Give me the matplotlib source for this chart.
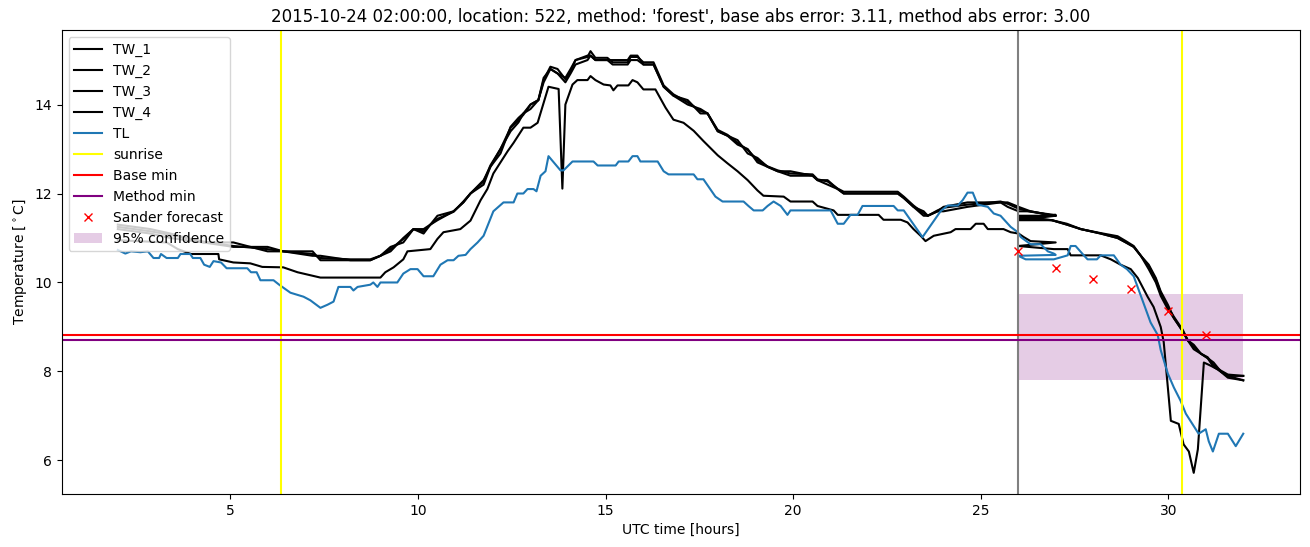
import matplotlib
matplotlib.use("Agg")
import matplotlib.pyplot as plt

# upper three water temperature sensors (two chunks: history + forecast window)
tw_hours = [2.0, 2.87, 3.4, 4.28, 5.08, 5.99, 6.41, 7.19, 7.4, 8.2, 8.73, 9.0, 9.27, 9.61, 9.88,
            10.15, 10.33, 10.52, 10.95, 11.21, 11.4, 11.75, 11.93, 12.2, 12.47, 12.68, 12.81, 13.0,
            13.21, 13.35, 13.53, 13.72, 13.93, 14.07, 14.2, 14.52, 14.6, 14.73, 15.05, 15.19, 15.59,
            15.67, 15.85, 16.01, 16.28, 16.55, 16.81, 17.19, 17.53, 17.72, 17.99, 18.25, 18.52, 18.79,
            19.05, 19.32, 19.59, 19.93, 20.52, 20.65, 20.92, 21.19, 21.35, 22.79, 22.95, 23.21, 23.48,
            23.59, 23.85, 24.01, 24.65, 25.53, 25.72, 26.01, 26.33, 26.95, 27.0,
            26.0, 26.9, 27.3, 27.67, 28.2, 28.65, 28.87, 29.08, 29.27, 29.48, 29.67, 29.8, 29.99, 30.15,
            30.39, 30.52, 30.68, 30.87, 31.05, 31.21, 31.4, 31.59, 32.0]

tw_1 = [11.25, 11.15, 11.07, 10.92, 10.82, 10.75, 10.7, 10.64, 10.55, 10.52, 10.52, 10.6, 10.75, 10.98,
        11.2, 11.15, 11.3, 11.43, 11.59, 11.82, 12.0, 12.27, 12.63, 13.0, 13.48, 13.65, 13.77, 14.0,
        14.1, 14.55, 14.85, 14.8, 14.57, 14.75, 15.0, 15.07, 15.2, 15.05, 15.05, 14.95, 14.95, 15.07,
        15.07, 14.95, 14.95, 14.43, 14.23, 14.05, 13.86, 13.8, 13.43, 13.32, 13.14, 12.98, 12.75, 12.61,
        12.52, 12.45, 12.43, 12.32, 12.27, 12.11, 12.04, 12.04, 11.93, 11.73, 11.55, 11.5, 11.62, 11.68,
        11.75, 11.82, 11.77, 11.66, 11.59, 11.52, 11.52,
        11.45, 11.4, 11.32, 11.2, 11.11, 11.04, 10.93, 10.82, 10.6, 10.37, 10.07, 9.77, 9.45, 9.23,
        8.93, 8.7, 8.55, 8.4, 8.32, 8.14, 8.02, 7.93, 7.9]

tw_2 = [11.2, 11.1, 11.0, 10.9, 10.8, 10.8, 10.7, 10.6, 10.6, 10.5, 10.5, 10.6, 10.7, 11.0, 11.2,
        11.1, 11.3, 11.4, 11.6, 11.8, 12.0, 12.3, 12.6, 13.0, 13.4, 13.6, 13.8, 14.0, 14.1, 14.5,
        14.8, 14.7, 14.5, 14.7, 14.9, 15.0, 15.1, 15.0, 15.0, 14.9, 14.9, 15.0, 15.0, 14.9, 14.9,
        14.4, 14.2, 14.0, 13.9, 13.8, 13.4, 13.3, 13.1, 13.0, 12.7, 12.6, 12.5, 12.4, 12.4, 12.3,
        12.2, 12.1, 12.0, 12.0, 11.9, 11.7, 11.5, 11.5, 11.6, 11.6, 11.7, 11.8, 11.8, 11.7, 11.6,
        11.5, 11.5,
        11.4, 11.4, 11.3, 11.2, 11.1, 11.0, 10.9, 10.8, 10.6, 10.4, 10.1, 9.8, 9.5, 9.2, 8.9, 8.7,
        8.5, 8.4, 8.3, 8.1, 8.0, 7.9, 7.9]

tw_4 = [11.3, 11.2, 11.1, 10.9, 10.9, 10.7, 10.7, 10.7, 10.5, 10.5, 10.5, 10.6, 10.8, 10.9, 11.2,
        11.2, 11.3, 11.5, 11.6, 11.8, 12.0, 12.2, 12.6, 12.9, 13.5, 13.7, 13.8, 13.9, 14.1, 14.6,
        14.8, 14.7, 14.6, 14.8, 15.0, 15.1, 15.1, 15.0, 15.0, 15.0, 15.0, 15.1, 15.1, 14.9, 14.9,
        14.4, 14.2, 14.1, 13.8, 13.8, 13.4, 13.3, 13.2, 12.9, 12.8, 12.6, 12.5, 12.5, 12.4, 12.3,
        12.3, 12.1, 12.0, 12.0, 11.9, 11.7, 11.6, 11.5, 11.6, 11.7, 11.8, 11.8, 11.7, 11.6, 11.6,
        11.5, 11.5,
        11.5, 11.4, 11.3, 11.2, 11.1, 11.0, 10.9, 10.8, 10.6, 10.3, 10.0, 9.7, 9.4, 9.2, 8.9, 8.7,
        8.6, 8.4, 8.3, 8.2, 8.0, 7.9, 7.8]

# lower sensor, with the spike at ~13.8 h and the drop before sunrise
tw3_hours = [2.0, 3.3, 3.6, 3.95, 4.68, 4.7, 5.08, 5.53, 5.85, 6.41, 6.79, 7.4, 9.0, 9.13, 9.35,
             9.61, 9.72, 10.33, 10.52, 10.68, 11.13, 11.4, 11.67, 11.85, 12.01, 12.39, 12.55, 12.81,
             13.0, 13.19, 13.48, 13.75, 13.85, 13.93, 14.12, 14.25, 14.52, 14.6, 14.73, 14.95, 15.13,
             15.21, 15.32, 15.61, 15.72, 15.85, 16.01, 16.33, 16.6, 16.81, 17.08, 17.35, 17.61, 17.99,
             18.25, 18.52, 18.79, 19.05, 19.21, 19.75, 19.93, 20.52, 20.65, 21.08, 21.19, 22.28, 22.41,
             22.87, 23.05, 23.21, 23.4, 23.53, 23.75, 24.2, 24.33, 24.73, 24.87, 25.08, 25.19, 25.61,
             25.8, 26.01, 26.15, 26.33, 27.0,
             26.0, 26.95, 27.32, 27.4, 28.2, 28.47, 28.73, 29.0, 29.19, 29.45, 29.61, 29.8, 29.88,
             29.99, 30.07, 30.28, 30.41, 30.55, 30.68, 30.79, 30.95, 31.08, 31.32, 31.59, 32.0]
tw_3 = [10.95, 10.9, 10.75, 10.64, 10.64, 10.52, 10.45, 10.43, 10.35, 10.34, 10.23, 10.11, 10.11,
        10.23, 10.34, 10.52, 10.7, 10.75, 10.98, 11.13, 11.2, 11.39, 11.85, 12.1, 12.45, 12.95, 13.14,
        13.48, 13.48, 13.59, 14.4, 14.35, 12.11, 14.0, 14.45, 14.55, 14.55, 14.64, 14.55, 14.45, 14.43,
        14.32, 14.43, 14.43, 14.55, 14.5, 14.34, 14.34, 13.93, 13.66, 13.59, 13.41, 13.18, 12.86, 12.68,
        12.5, 12.3, 12.07, 11.95, 11.93, 11.82, 11.82, 11.72, 11.62, 11.52, 11.52, 11.41, 11.41, 11.35,
        11.2, 11.05, 10.93, 11.05, 11.13, 11.2, 11.2, 11.32, 11.32, 11.2, 11.2, 11.13, 11.1, 11.02,
        10.93, 10.9,
        10.82, 10.75, 10.75, 10.61, 10.61, 10.52, 10.4, 10.3, 10.1, 9.68, 9.45, 9.0, 8.66, 7.64, 6.89,
        6.82, 6.36, 6.2, 5.72, 6.25, 8.2, 8.15, 8.05, 7.86, 7.8]

# air temperature
tl_hours = [2.0, 2.2, 2.35, 2.6, 2.8, 2.95, 3.1, 3.15, 3.3, 3.6, 3.67, 3.93, 4.0, 4.2, 4.3, 4.45,
            4.55, 4.75, 4.9, 5.45, 5.55, 5.7, 5.8, 6.15, 6.3, 6.6, 6.95, 7.13, 7.4, 7.59, 7.75, 7.88,
            8.2, 8.28, 8.39, 8.73, 8.81, 8.92, 9.0, 9.45, 9.61, 9.8, 9.99, 10.15, 10.41, 10.6, 10.79,
            10.95, 11.08, 11.27, 11.4, 11.59, 11.75, 11.93, 12.01, 12.28, 12.55, 12.65, 12.81, 12.92,
            13.08, 13.16, 13.27, 13.4, 13.48, 13.8, 13.88, 14.12, 14.68, 14.79, 15.27, 15.35, 15.61,
            15.72, 15.85, 15.93, 16.39, 16.55, 16.68, 17.35, 17.45, 17.61, 17.93, 18.12, 18.68, 18.81,
            18.95, 19.19, 19.32, 19.48, 19.67, 19.85, 19.93, 21.0, 21.19, 21.35, 21.53, 21.72, 21.85,
            22.68, 22.79, 22.95, 23.45, 23.93, 24.12, 24.39, 24.52, 24.65, 24.79, 24.92, 25.19, 25.35,
            25.53, 25.8, 25.99, 26.07, 26.33, 26.6, 26.79, 26.95, 27.0,
            26.0, 26.2, 26.95, 27.32, 27.4, 27.53, 27.75, 27.85, 28.1, 28.2, 28.55, 28.73, 28.9, 29.08,
            29.27, 29.53, 29.72, 29.8, 29.99, 30.15, 30.33, 30.47, 30.68, 30.81, 31.0, 31.08, 31.19,
            31.35, 31.59, 31.8, 32.0]
tl = [10.73, 10.65, 10.7, 10.68, 10.7, 10.55, 10.55, 10.64, 10.55, 10.55, 10.64, 10.64, 10.55, 10.55,
      10.4, 10.35, 10.48, 10.45, 10.32, 10.32, 10.23, 10.23, 10.05, 10.05, 9.95, 9.77, 9.68, 9.6, 9.43,
      9.5, 9.57, 9.9, 9.9, 9.82, 9.9, 9.95, 10.0, 9.9, 10.0, 10.0, 10.2, 10.3, 10.3, 10.14, 10.14, 10.4,
      10.5, 10.5, 10.6, 10.62, 10.75, 10.9, 11.05, 11.43, 11.6, 11.8, 11.8, 12.0, 12.0, 12.1, 12.1,
      12.05, 12.4, 12.5, 12.84, 12.52, 12.52, 12.72, 12.72, 12.63, 12.63, 12.72, 12.72, 12.84, 12.84,
      12.72, 12.72, 12.5, 12.43, 12.43, 12.32, 12.32, 11.93, 11.82, 11.82, 11.72, 11.62, 11.62, 11.72,
      11.82, 11.72, 11.52, 11.62, 11.62, 11.32, 11.32, 11.52, 11.52, 11.72, 11.72, 11.62, 11.62, 11.02,
      11.6, 11.73, 11.73, 11.85, 12.02, 12.02, 11.75, 11.7, 11.55, 11.5, 11.25, 11.13, 11.02, 10.86,
      10.86, 10.7, 10.65, 10.62,
      10.6, 10.52, 10.52, 10.61, 10.82, 10.82, 10.61, 10.52, 10.52, 10.61, 10.61, 10.4, 10.3, 10.14,
      9.7, 9.1, 8.82, 8.48, 7.95, 7.64, 7.34, 7.05, 6.77, 6.6, 6.7, 6.43, 6.2, 6.6, 6.6, 6.32, 6.6]

sunrise = [6.36, 30.36]
forecast_start = 26.0
base_min = 8.83
method_min = 8.71
sander_hours = [26, 27, 28, 29, 30, 31]
sander = [10.7, 10.32, 10.08, 9.86, 9.35, 8.82]
conf_hours = [26.0, 32.0]
conf_low = 7.8
conf_high = 9.73

fig, ax = plt.subplots(figsize=(13.1, 5.47), dpi=100)
fig.subplots_adjust(left=0.047, right=0.992, bottom=0.097, top=0.945)

ax.plot(tw_hours, tw_1, color='black', label='TW_1')
ax.plot(tw_hours, tw_2, color='black', label='TW_2')
ax.plot(tw3_hours, tw_3, color='black', label='TW_3')
ax.plot(tw_hours, tw_4, color='black', label='TW_4')
ax.plot(tl_hours, tl, label='TL')
ax.axvline(sunrise[0], color='yellow', label='sunrise')
ax.axvline(sunrise[1], color='yellow')
ax.axvline(forecast_start, color='grey')
ax.axhline(base_min, color='red', label='Base min')
ax.axhline(method_min, color='purple', label='Method min')
ax.plot(sander_hours, sander, 'x', color='red', label='Sander forecast')
ax.fill_between(conf_hours, conf_low, conf_high, color='purple', alpha=0.2,
                linewidth=0, label='95% confidence', zorder=1)

ax.set_title("2015-10-24 02:00:00, location: 522, method: 'forest', "
             "base abs error: 3.11, method abs error: 3.00")
ax.set_xlabel('UTC time [hours]')
ax.set_ylabel(r'Temperature [$^\circ$C]')
ax.legend(loc='upper left')

plt.savefig('out.png')
